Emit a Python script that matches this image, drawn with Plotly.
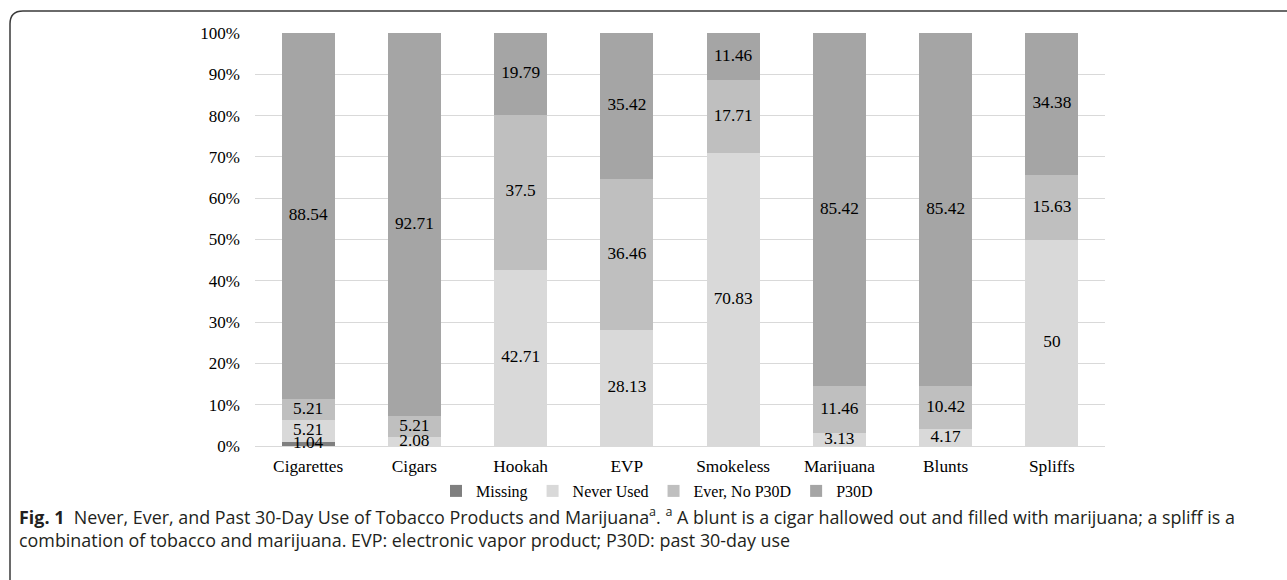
import plotly.graph_objects as go

categories = ["Cigarettes", "Cigars", "Hookah", "EVP", "Smokeless", "Marijuana", "Blunts", "Spliffs"]
missing = [1.04, 0, 0, 0, 0, 0, 0, 0]
never_used = [5.21, 2.08, 42.71, 28.13, 70.83, 3.13, 4.17, 50]
ever_no_p30d = [5.21, 5.21, 37.5, 36.46, 17.71, 11.46, 10.42, 15.63]
p30d = [88.54, 92.71, 19.79, 35.42, 11.46, 85.42, 85.42, 34.38]
y_ticks = [0, 10, 20, 30, 40, 50, 60, 70, 80, 90, 100]
y_tick_labels = [f"{t}%" for t in y_ticks]

series = [
    ("Missing", missing, "#7f7f7f"),
    ("Never Used", never_used, "#d9d9d9"),
    ("Ever, No P30D", ever_no_p30d, "#bfbfbf"),
    ("P30D", p30d, "#a5a5a5"),
]

W, H = 1287, 580
L, R, T, B = 255, 1105, 33, 446

def px(x):
    return (x - L) / (R - L)

def py(y):
    return (B - y) / (B - T)

SERIF = "Liberation Serif"
fig = go.Figure()
for name, vals, col in series:
    fig.add_trace(go.Bar(
        x=categories, y=vals, name=name,
        marker=dict(color=col, line=dict(width=0)),
        hoverinfo="skip",
    ))

# data labels drawn on top of all bars, at the middle of each stacked segment
base = [0.0] * len(categories)
for name, vals, col in series:
    mids = [b + v / 2 for b, v in zip(base, vals)]
    fig.add_trace(go.Scatter(
        x=categories, y=mids, mode="text",
        text=[("" if v == 0 else f"{v:g}") for v in vals],
        textposition="middle center",
        textfont=dict(family=SERIF, size=17.3, color="#000000"),
        showlegend=False, hoverinfo="skip", cliponaxis=False,
    ))
    base = [b + v for b, v in zip(base, vals)]

caption = ("<b>Fig. 1</b>  Never, Ever, and Past 30-Day Use of Tobacco Products and Marijuana<sup>a</sup>. "
           "<sup>a</sup> A blunt is a cigar hallowed out and filled with marijuana; a spliff is a<br>"
           "combination of tobacco and marijuana. EVP: electronic vapor product; P30D: past 30-day use")

fig.update_layout(
    width=W, height=H,
    barmode="stack", bargap=0.5,
    plot_bgcolor="white", paper_bgcolor="white",
    margin=dict(l=L, r=W - R, t=T, b=H - B, pad=0),
    font=dict(family=SERIF, size=17, color="#000000"),
    xaxis=dict(showgrid=False, showline=False, ticks="", ticklabelstandoff=8,
               tickfont=dict(size=17.3, color="#000000")),
    yaxis=dict(range=[0, 100], tickvals=y_ticks, ticktext=y_tick_labels,
               gridcolor="#d9d9d9", gridwidth=1.3, zeroline=True, zerolinecolor="#d9d9d9",
               zerolinewidth=1.3, ticks="", ticklabelstandoff=14,
               tickfont=dict(size=17, color="#000000")),
    showlegend=True,
    legend=dict(orientation="h", x=px(657), xanchor="center", y=py(491), yanchor="middle",
                font=dict(family=SERIF, size=16, color="#000000"),
                traceorder="normal", itemwidth=30),
    shapes=[dict(type="path", xref="paper", yref="paper",
                 path=(f"M {px(10)},{py(585)} L {px(10)},{py(24)} Q {px(10)},{py(11)} {px(23)},{py(11)} "
                       f"L {px(1300)},{py(11)}"),
                 line=dict(color="#3a3a3a", width=1.5))],
    annotations=[dict(xref="paper", yref="paper", x=px(17), y=py(501), xanchor="left", yanchor="top",
                      text=caption, showarrow=False, align="left",
                      font=dict(family="Open Sans", size=17.9, color="#231f20"))],
)
fig.write_html("out.html")
